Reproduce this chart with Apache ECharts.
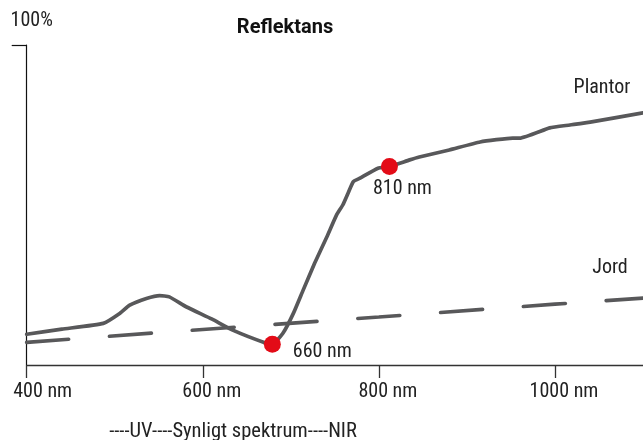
<!DOCTYPE html>
<html><head><meta charset="utf-8">
<script src="https://cdn.jsdelivr.net/npm/echarts@6/dist/echarts.min.js"></script>
<style>html,body{margin:0;padding:0;background:#fff}#c{width:643px;height:440px}</style>
</head><body><div id="c"></div>
<script>
const titleText = 'Reflektans';
const subText = '----UV----Synligt spektrum----NIR';
const xTicks = [400, 600, 800, 1000];
const plantorNm  = [400, 440, 487, 506, 517, 536, 551, 562, 581, 610, 634, 672, 679, 691, 703, 714, 727, 741, 752, 759, 765, 771, 778, 799, 812, 835, 846, 880, 915, 952, 960, 994, 1017, 1040, 1100];
const plantorPct = [9.6, 11.2, 13.0, 16.2, 18.7, 20.8, 21.7, 21.3, 18.2, 14.4, 10.9, 6.8, 6.5, 9.9, 16.2, 23.4, 31.8, 40.1, 46.9, 50.0, 53.7, 57.3, 58.3, 61.5, 62.0, 64.1, 65.0, 67.2, 69.7, 70.9, 70.9, 74.1, 75.0, 75.9, 78.8];
const jordNm  = [400, 600, 800, 1000, 1100];
const jordPct = [7.1, 11.1, 15.0, 19.0, 20.9];
const markerNm  = [679, 812];
const markerPct = [6.5, 62.0];
const markerLabels = ['660 nm', '810 nm'];
const seriesNames = ['Plantor', 'Jord'];

const FONT = '"Roboto Condensed", "Open Sans", sans-serif';
const TFONT = 'Roboto, "Open Sans", sans-serif';
const FS = 20;
const LINE = '#58585a';
const RED = '#e30b17';

const labelStyles = [
  {position: 'right', distance: 12, offset: [0, 8]},
  {position: 'bottom', distance: 4, offset: [13, 0]}
];

const chart = echarts.init(document.getElementById('c'), null, {renderer: 'canvas'});
chart.setOption({
  animation: false,
  backgroundColor: '#fff',
  title: {
    text: titleText, left: 280, top: 13, textAlign: 'center',
    textStyle: {fontFamily: TFONT, fontSize: 20, fontWeight: 'bold', color: '#111'}
  },
  graphic: [
    {type: 'text', x: 233, y: 432, style: {text: subText, font: '20.5px ' + FONT, fill: '#222', align: 'center', verticalAlign: 'middle'}},
    {type: 'text', x: 602, y: 88, style: {text: seriesNames[0], font: FS + 'px ' + FONT, fill: '#222', align: 'center', verticalAlign: 'middle'}},
    {type: 'text', x: 610, y: 268, style: {text: seriesNames[1], font: FS + 'px ' + FONT, fill: '#222', align: 'center', verticalAlign: 'middle'}}
  ],
  grid: {left: 26.7, right: 0, top: 45, bottom: 75, containLabel: false, outerBoundsMode: 'none'},
  xAxis: {
    type: 'value', min: 400, max: 1100, interval: 200,
    axisLine: {show: true, lineStyle: {color: '#333', width: 1.3}},
    axisTick: {show: true, length: 13, customValues: xTicks, lineStyle: {color: '#333', width: 1.3}},
    axisLabel: {
      customValues: xTicks, margin: 17, padding: [0, 0, 0, 18],
      formatter: v => (v === xTicks[0] ? '{first|' + v + ' nm}' : v + ' nm'),
      rich: {first: {padding: [0, 0, 0, 14], fontFamily: FONT, fontSize: FS, color: '#222'}},
      fontFamily: FONT, fontSize: FS, color: '#222'
    },
    splitLine: {show: false}
  },
  yAxis: {
    type: 'value', min: 0, max: 100, interval: 100,
    name: '100%', nameLocation: 'end', nameGap: 14,
    nameTextStyle: {fontFamily: FONT, fontSize: FS, color: '#222', padding: [0, 0, 0, 10]},
    axisLine: {show: true, lineStyle: {color: '#111', width: 1.2}},
    axisTick: {show: true, length: 15, customValues: [100], lineStyle: {color: '#111', width: 1.2}},
    axisLabel: {show: false},
    splitLine: {show: false}
  },
  series: [
    {
      name: seriesNames[0], type: 'line', smooth: 0.15, symbol: 'none',
      lineStyle: {color: LINE, width: 3.7, cap: 'round', join: 'round'},
      data: plantorNm.map((x, i) => [x, plantorPct[i]]), z: 2
    },
    {
      name: seriesNames[1], type: 'line', symbol: 'none',
      lineStyle: {color: LINE, width: 3.7, type: [42, 41], cap: 'round'},
      data: jordNm.map((x, i) => [x, jordPct[i]]), z: 1
    },
    {
      type: 'scatter', symbol: 'circle', symbolSize: 17,
      itemStyle: {color: RED, opacity: 1},
      data: markerNm.map((x, i) => ({
        value: [x, markerPct[i]],
        label: Object.assign({show: true, formatter: markerLabels[i], fontFamily: FONT, fontSize: FS, color: '#222'}, labelStyles[i])
      })),
      z: 5
    }
  ]
});
</script></body></html>
